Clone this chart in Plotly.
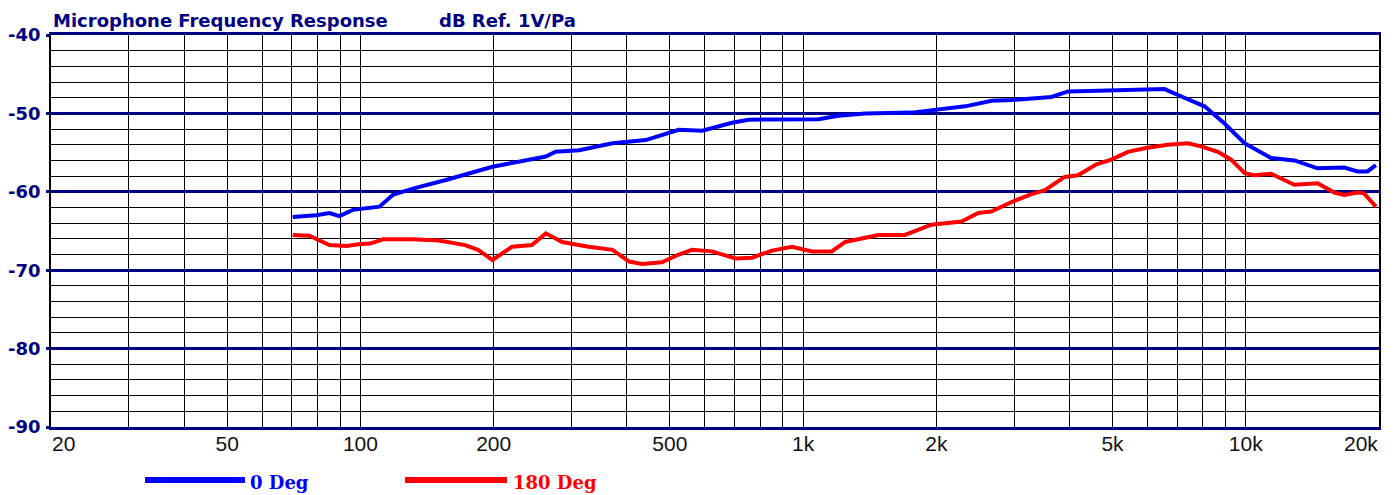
import math
import plotly.graph_objects as go

# ---- data ----
freq_0deg = [70.3, 79.4, 85.1, 89.7, 96.1, 110.4, 118.3, 131.3, 156, 198.8, 262.3, 276, 312, 371, 441,
             524, 592, 691, 753, 1084, 1202, 1381, 1759, 1986, 2322, 2668, 2959, 3640, 3970, 4635,
             5235, 6556, 7027, 8071, 8955, 9935, 11410, 12880, 14530, 16690, 17880, 18840, 19680]
db_0deg = [-63.2, -63.0, -62.7, -63.1, -62.3, -61.9, -60.4, -59.6, -58.5, -56.8, -55.5, -54.9, -54.7, -53.8, -53.4,
           -52.1, -52.2, -51.2, -50.8, -50.75, -50.3, -50.0, -49.9, -49.6, -49.1, -48.4, -48.3, -47.9, -47.2, -47.1,
           -47.0, -46.9, -47.65, -49.1, -51.3, -53.8, -55.7, -56.0, -57.0, -56.9, -57.4, -57.4, -56.6]

freq_180deg = [70.3, 76.7, 85.1, 93.1, 99.1, 105.2, 112.5, 131.3, 150.4, 172.3, 184.4, 198.8, 220.2, 244,
               262.3, 285.7, 327.6, 371, 404.6, 433, 480, 524, 561, 623, 703, 767, 851, 944, 1047, 1161,
               1245, 1381, 1479, 1698, 1950, 2280, 2488, 2668, 2959, 3282, 3519, 3900, 4178, 4600, 4969,
               5418, 5911, 6668, 7399, 7929, 8649, 9269, 9935, 10460, 11410, 12220, 12880, 14530, 15850,
               16690, 17880, 18500, 19680]
db_180deg = [-65.5, -65.6, -66.8, -66.9, -66.7, -66.6, -66.06, -66.06, -66.2, -66.8, -67.4, -68.7, -67.0, -66.8,
             -65.3, -66.4, -67.0, -67.4, -68.9, -69.2, -69.0, -68.0, -67.4, -67.6, -68.5, -68.4, -67.5, -67.0, -67.6, -67.6,
             -66.4, -65.9, -65.5, -65.5, -64.2, -63.8, -62.7, -62.5, -61.3, -60.3, -59.8, -58.1, -57.9, -56.5, -55.9,
             -54.9, -54.45, -54.0, -53.8, -54.2, -54.9, -55.9, -57.6, -57.9, -57.7, -58.5, -59.1, -58.9, -60.1,
             -60.4, -60.1, -60.2, -61.9]

x_grid_vals = ([m * 10 for m in range(2, 10)] + [m * 100 for m in range(1, 10)]
               + [m * 1000 for m in range(1, 10)] + [10000, 20000])
x_labels = {50: "50", 100: "100", 200: "200", 500: "500",
            1000: "1k", 2000: "2k", 5000: "5k", 10000: "10k"}
x_end_labels = [(20, "20", "left"), (20000, "20k", "right")]
y_tick_vals = [-90, -80, -70, -60, -50, -40]
y_tick_text = ["-90", "-80", "-70", "-60", "-50", "-40"]

title_left = "Microphone Frequency Response"
title_right = "dB Ref. 1V/Pa"
series_names = ["0 Deg", "180 Deg"]
series_colors = ["#0000FF", "#FF0000"]

NAVY = "#000080"
W, H = 1396, 495
ML, MR, MT, MB = 51, 17, 35, 68
PW, PH = W - ML - MR, H - MT - MB
XFONT = dict(family="Liberation Sans Narrow, Liberation Sans", size=21, color="#111111")


def px2paper(px, py):
    return (px - ML) / PW, (H - MB - py) / PH


fig = go.Figure()
fig.add_trace(go.Scatter(x=freq_0deg, y=db_0deg, mode="lines", name=series_names[0],
                         line=dict(color=series_colors[0], width=4), showlegend=False))
fig.add_trace(go.Scatter(x=freq_180deg, y=db_180deg, mode="lines", name=series_names[1],
                         line=dict(color=series_colors[1], width=4), showlegend=False))

fig.update_layout(
    width=W, height=H,
    margin=dict(l=ML, r=MR, t=MT, b=MB, autoexpand=False),
    paper_bgcolor="white", plot_bgcolor="white",
    showlegend=False,
    xaxis=dict(
        type="log", range=[1.30100, 4.30106],
        tickmode="array", tickvals=x_grid_vals,
        ticktext=[x_labels.get(v, "") for v in x_grid_vals],
        showgrid=True, gridcolor="black", gridwidth=1.4,
        ticks="", ticklabelstandoff=-4,
        tickfont=XFONT,
        showline=True, linecolor=NAVY, linewidth=3, mirror=True,
        zeroline=False, fixedrange=True, automargin=False,
    ),
    yaxis=dict(
        range=[-90, -40],
        tickmode="array", tickvals=y_tick_vals, ticktext=y_tick_text,
        showgrid=True, gridcolor=NAVY, gridwidth=3,
        ticks="outside", ticklen=3, tickcolor=NAVY, tickwidth=3,
        ticklabelstandoff=2,
        tickfont=dict(family="DejaVu Sans", size=18, color=NAVY, weight="bold"),
        minor=dict(dtick=2, tick0=-90, showgrid=True, gridcolor="black", gridwidth=1.4, ticks=""),
        showline=True, linecolor="black", linewidth=1.5, mirror=True,
        zeroline=False, fixedrange=True, automargin=False,
    ),
)

# end tick labels kept inside the frame, as in the reference
_, ly = px2paper(0, 444)
for val, txt, anchor in x_end_labels:
    fig.add_annotation(text=txt, xref="x", yref="paper", x=math.log10(val), y=ly,
                       xanchor=anchor, yanchor="middle", showarrow=False, font=XFONT,
                       borderpad=0)

# title texts
ax, ay = px2paper(51, 21)
fig.add_annotation(text=title_left, xref="paper", yref="paper", x=ax, y=ay,
                   xanchor="left", yanchor="middle", showarrow=False,
                   font=dict(family="DejaVu Sans", size=18, color=NAVY, weight="bold"))
ax, ay = px2paper(437, 21)
fig.add_annotation(text=title_right, xref="paper", yref="paper", x=ax, y=ay,
                   xanchor="left", yanchor="middle", showarrow=False,
                   font=dict(family="DejaVu Sans", size=18, color=NAVY, weight="bold"))

# legend (drawn manually with long line samples)
legend_items = [(145, 245, 248), (405, 507, 511)]
for (x0, x1, xt), name, col in zip(legend_items, series_names, series_colors):
    p0x, p0y = px2paper(x0, 480)
    p1x, _ = px2paper(x1, 480)
    fig.add_shape(type="line", xref="paper", yref="paper", x0=p0x, x1=p1x, y0=p0y, y1=p0y,
                  line=dict(color=col, width=6))
    tx, ty = px2paper(xt, 482)
    fig.add_annotation(text=name, xref="paper", yref="paper", x=tx, y=ty,
                       xanchor="left", yanchor="middle", showarrow=False,
                       font=dict(family="DejaVu Serif", size=18, color=col, weight="bold"))

fig.write_html("out.html", config={"displayModeBar": False},
               post_script="document.body.style.margin='0';document.body.style.overflow='hidden';")
